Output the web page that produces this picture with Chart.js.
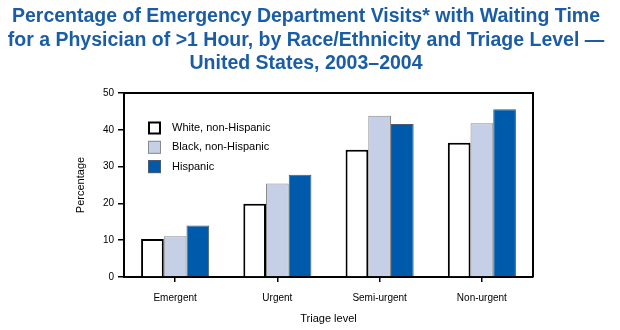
<!DOCTYPE html>
<html>
<head>
<meta charset="utf-8">
<script src="https://cdn.jsdelivr.net/npm/chart.js@4"></script>
<style>
  html, body { margin: 0; padding: 0; background: #fff; }
  #wrap { width: 620px; height: 330px; }
</style>
</head>
<body>
<div id="wrap"><canvas id="myChart" width="620" height="330"></canvas></div>
<script>
const titleLines = [
    "Percentage of Emergency Department Visits* with Waiting Time",
    "for a Physician of >1 Hour, by Race/Ethnicity and Triage Level \u2014",
    "United States, 2003\u20132004",
];
const triageLevels = ["Emergent", "Urgent", "Semi-urgent", "Non-urgent"];
const groupNames = ["White, non-Hispanic", "Black, non-Hispanic", "Hispanic"];
const whiteValues = [10.3, 19.9, 34.6, 36.5];
const blackValues = [11.1, 25.4, 43.8, 41.8];
const hispanicValues = [14.0, 27.8, 41.6, 45.6];
const yTicks = [0, 10, 20, 30, 40, 50];

const fills = ["#ffffff", "#c5d0e7", "#005aab"];
const edges = ["#000000", "#8a8a8a", "#4a5a70"];
const edgeWidths = [2, 1, 1];

// the built-in title squeezes long lines into the padded box, so draw it here
const headline = {
    id: "headline",
    afterDraw(chart) {
        const { ctx } = chart;
        ctx.save();
        ctx.font = "bold 19.5px Arial, sans-serif";
        ctx.fillStyle = "#1a5da6";
        ctx.textAlign = "center";
        ctx.textBaseline = "alphabetic";
        titleLines.forEach((line, i) => {
            ctx.fillText(line, 306, 22 + i * 23.5);
        });
        ctx.restore();
    },
};

// box around the plot: top and right sides (left/bottom come from the axes)
const framePlugin = {
    id: "frame",
    afterDatasetsDraw(chart) {
        const { ctx, chartArea: a } = chart;
        ctx.save();
        ctx.strokeStyle = "#000";
        ctx.lineWidth = 2;
        ctx.beginPath();
        ctx.moveTo(a.left, a.top);
        ctx.lineTo(a.right, a.top);
        ctx.lineTo(a.right, a.bottom);
        ctx.stroke();
        ctx.restore();
    },
};

// legend drawn inside the plot, top-left
const insideLegend = {
    id: "insideLegend",
    afterDraw(chart) {
        const { ctx, chartArea: a } = chart;
        ctx.save();
        ctx.font = "11px Arial, sans-serif";
        ctx.textBaseline = "middle";
        chart.data.datasets.forEach((ds, i) => {
            const y = a.top + 35 + i * 19.3;
            const x = a.left + 24;
            ctx.fillStyle = ds.backgroundColor;
            ctx.fillRect(x, y - 6.5, 13, 13);
            ctx.strokeStyle = ds.borderColor;
            ctx.lineWidth = ds.borderWidth;
            ctx.strokeRect(x + ds.borderWidth / 2, y - 6.5 + ds.borderWidth / 2,
                13 - ds.borderWidth, 13 - ds.borderWidth);
            ctx.fillStyle = "#000";
            ctx.fillText(ds.label, a.left + 48, y);
        });
        ctx.restore();
    },
};

function main() {
    const ctx = document.getElementById("myChart");
    const series = [whiteValues, blackValues, hispanicValues];

    new Chart(ctx, {
        type: "bar",
        data: {
            labels: triageLevels,
            datasets: series.map((vals, i) => ({
                label: groupNames[i],
                data: vals,
                backgroundColor: fills[i],
                borderColor: edges[i],
                borderWidth: edgeWidths[i],
                categoryPercentage: 0.666,
                barPercentage: 1,
            })),
        },
        options: {
            responsive: false,
            animation: false,
            layout: { padding: { left: 70, right: 87, top: 93, bottom: 0 } },
            plugins: {
                legend: { display: false },
                tooltip: { enabled: false },
                title: { display: false },
            },
            scales: {
                x: {
                    afterFit: (s) => { s.height = 53; },
                    border: { color: "#000", width: 2 },
                    grid: {
                        offset: false,
                        drawOnChartArea: false,
                        tickLength: 5,
                        color: "#000",
                        lineWidth: 1.5,
                    },
                    ticks: {
                        color: "#000",
                        padding: 10,
                        font: { family: "Arial, sans-serif", size: 10 },
                    },
                    title: {
                        display: true,
                        text: "Triage level",
                        color: "#000",
                        padding: { top: 8 },
                        font: { family: "Arial, sans-serif", size: 11 },
                    },
                },
                y: {
                    min: 0,
                    max: 50,
                    afterFit: (s) => { s.width = 54; },
                    afterBuildTicks: (s) => { s.ticks = yTicks.map((v) => ({ value: v })); },
                    border: { color: "#000", width: 2 },
                    grid: {
                        drawOnChartArea: false,
                        tickLength: 6,
                        color: "#000",
                        lineWidth: 1.5,
                    },
                    ticks: {
                        color: "#000",
                        padding: 4,
                        font: { family: "Arial, sans-serif", size: 10 },
                    },
                    title: {
                        display: true,
                        text: "Percentage",
                        color: "#000",
                        padding: { top: 4, bottom: 4 },
                        font: { family: "Arial, sans-serif", size: 11 },
                    },
                },
            },
        },
        plugins: [framePlugin, insideLegend, headline],
    });
}

main();
</script>
</body>
</html>
